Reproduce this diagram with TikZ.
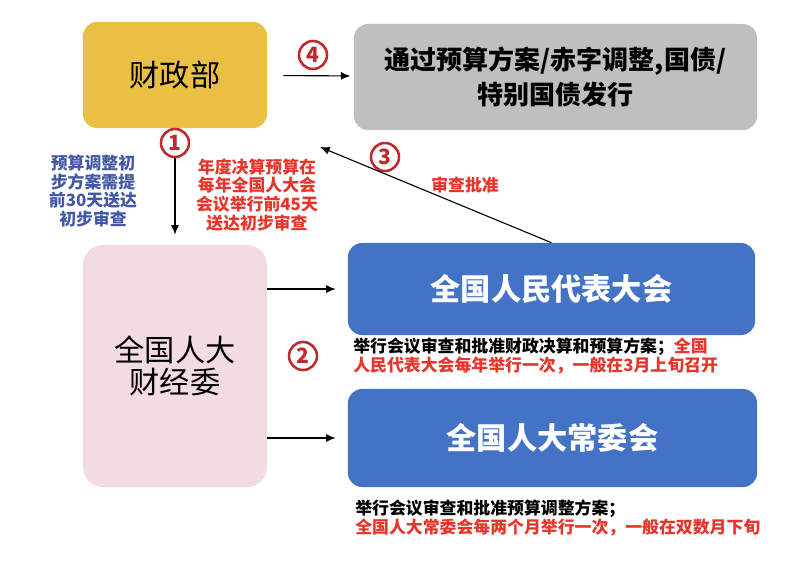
\documentclass[tikz,border=0pt]{standalone}
\usepackage{fontspec}
\setmainfont{Noto Sans CJK SC}
\usetikzlibrary{arrows.meta, calc}
\definecolor{czgold}{HTML}{EAC044}
\definecolor{passgray}{HTML}{BFBFBF}
\definecolor{cjwpink}{HTML}{F2DCE0}
\definecolor{npcblue}{HTML}{4472C4}
\definecolor{numred}{HTML}{C0282D}
\definecolor{notered}{HTML}{E8352C}
\definecolor{noteblue}{HTML}{4358A6}

\begin{document}
\begin{tikzpicture}[x=0.025cm, y=-0.025cm,
  box/.style={rounded corners=0.35cm, inner sep=0pt, align=center},
  arr/.style={thick, -{Latex[length=2.4mm, width=2mm]}},
  circ/.style={circle, draw=numred, line width=1.8pt, minimum size=0.7cm, inner sep=0pt,
    text=numred, font=\bfseries\fontsize{15pt}{15pt}\selectfont},
  note/.style={inner sep=0pt, align=left, font=\bfseries\fontsize{12pt}{14pt}\selectfont},
  rednote/.style={inner sep=0pt, align=center, text=notered, font=\bfseries\fontsize{12pt}{13.4pt}\selectfont},
  bluenote/.style={inner sep=0pt, align=center, text=noteblue, font=\bfseries\fontsize{12pt}{13.2pt}\selectfont}]
  \fill[white] (0,0) rectangle (812,561);
  \useasboundingbox (0,0) rectangle (812,561);

  \node[box, fill=czgold, minimum width=4.6cm, minimum height=2.65cm,
    font=\fontsize{21.5pt}{24pt}\selectfont] (czb) at (175,75) {财政部};
  \node[box, fill=passgray, minimum width=10.075cm, minimum height=2.65cm,
    font=\bfseries\fontsize{18.5pt}{25pt}\selectfont] (pass) at (555.5,77) {通过预算方案/赤字调整,国债/\\特别国债发行};
  \node[box, fill=cjwpink, rounded corners=0.5cm, minimum width=4.6cm, minimum height=6.05cm,
    font=\fontsize{21.5pt}{23pt}\selectfont] (fjw) at (175,366) {全国人大\\财经委};
  \node[box, fill=npcblue, text=white, minimum width=10.175cm, minimum height=2.3cm,
    font=\bfseries\fontsize{21.5pt}{24pt}\selectfont] (npc) at (551.5,289) {全国人民代表大会};
  \node[box, fill=npcblue, text=white, minimum width=10.225cm, minimum height=2.45cm,
    font=\bfseries\fontsize{21.5pt}{24pt}\selectfont] (cwh) at (552.5,438) {全国人大常委会};

  % numeri cerchiati
  \node[circ] (n1) at (175,143) {1};
  \node[circ] (n2) at (303,356) {2};
  \node[circ] (n3) at (385,157) {3};
  \node[circ] (n4) at (313,55) {4};
  \coordinate (t3) at (320,147);

  \draw[arr, shorten >=0.25cm] (n1) -- (fjw);
  \draw[arr, shorten <=0.4cm, shorten >=0.08cm] (czb) -- (pass);
  \draw[arr] (npc.north) -- (t3);
  \draw[arr, shorten >=0.3cm] (fjw.east |- npc) -- (npc.west);
  \draw[arr, shorten >=0.3cm] (fjw.east |- cwh) -- (cwh.west);

  \node[bluenote] (tq) at (93,191) {预算调整初\\步方案需提\\前30天送达\\初步审查};
  \node[rednote] (nd) at (257,195) {年度决算预算在\\每年全国人大会\\会议举行前45天\\送达初步审查};
  \node[rednote] (spzh) at (465,185) {审查批准};
  \node[note, anchor=north west] (npcnote) at (353,337)
    {举行会议审查和批准财政决算和预算方案；\textcolor{notered}{全国}\\
     \textcolor{notered}{人民代表大会每年举行一次，一般在3月上旬召开}};
  \node[note, anchor=north west] (cwhnote) at (355,499)
    {举行会议审查和批准预算调整方案；\\
     \textcolor{notered}{全国人大常委会每两个月举行一次，一般在双数月下旬}};
\end{tikzpicture}
\end{document}
